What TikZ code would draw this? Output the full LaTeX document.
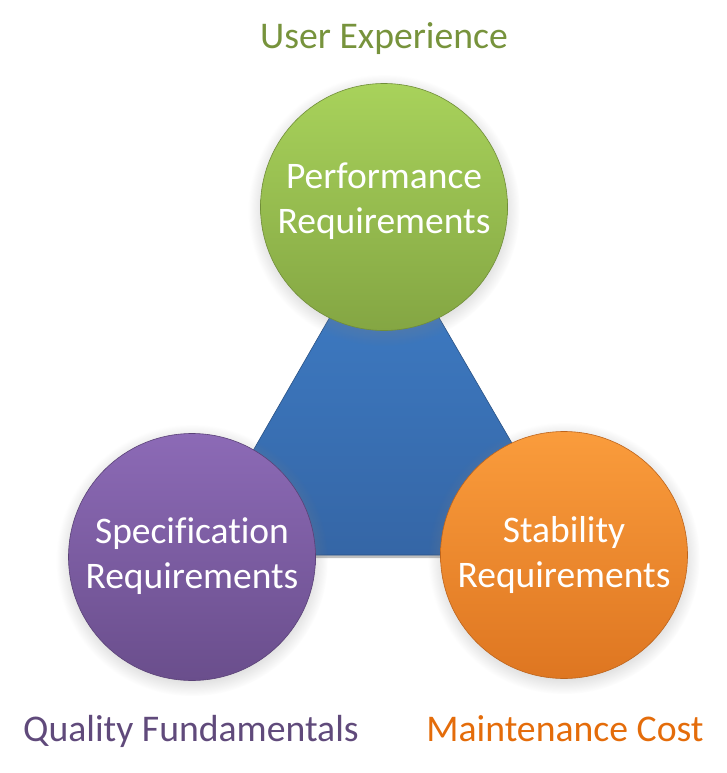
\documentclass[tikz,border=0pt]{standalone}
\usepackage{fontspec}
\setmainfont{Carlito}[RawFeature={-liga;-clig;-dlig}]
\usetikzlibrary{shadows}
\definecolor{grtop}{HTML}{A8D25B}
\definecolor{grbot}{HTML}{84A643}
\definecolor{putop}{HTML}{8C6AB6}
\definecolor{pubot}{HTML}{6A4E8C}
\definecolor{ortop}{HTML}{FA9C3C}
\definecolor{orbot}{HTML}{DE7621}
\definecolor{bltop}{HTML}{3F7FC9}
\definecolor{blbot}{HTML}{3566A6}
\definecolor{grtxt}{HTML}{77933C}
\definecolor{putxt}{HTML}{604A7B}
\definecolor{ortxt}{HTML}{E46C0A}
\tikzset{
  req/.style={circle, minimum size=247pt, inner sep=0pt, line width=0.6pt,
    circular drop shadow={shadow xshift=0pt, shadow yshift=-3pt, opacity=0.3}},
  reqtxt/.style={align=center, inner sep=0pt, text=white,
    font=\fontsize{37.5}{45}\selectfont},
  lab/.style={font=\fontsize{37.7}{45}\selectfont, inner sep=0pt, anchor=base}
}
\begin{document}
\begin{tikzpicture}[x=1pt,y=-1pt]
\useasboundingbox (0,0) rectangle (726,773);
% triangle
\fill[black, opacity=0.25] (384,226) -- (579,558) -- (191,558) -- cycle;
\shade[top color=bltop, bottom color=blbot, draw=blbot!80!black, line width=0.6pt]
  (384,223) -- (577,555) -- (193,555) -- cycle;
% circles
\node[req, top color=grtop, bottom color=grbot, draw=grbot!85!black] (perf) at (384,207) {};
\node[req, top color=putop, bottom color=pubot, draw=pubot!85!black] (spec) at (192,557) {};
\node[req, top color=ortop, bottom color=orbot, draw=orbot!85!black] (stab) at (564,555) {};
\node[reqtxt] (perft) at (384,201) {Performance\\Requirements};
\node[reqtxt] (spect) at (192,556) {Specification\\Requirements};
\node[reqtxt] (stabt) at (564,555) {Stability\\Requirements};
% labels
\node[lab, text=grtxt] (ux) at (384,49) {User Experience};
\node[lab, text=putxt] (qf) at (191,741) {Quality Fundamentals};
\node[lab, text=ortxt] (mc) at (565,741) {Maintenance Cost};
\end{tikzpicture}
\end{document}
